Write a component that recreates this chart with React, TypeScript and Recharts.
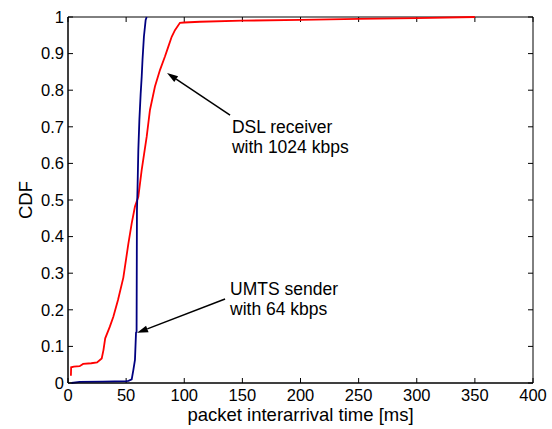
import React from "react";
import {
  LineChart,
  Line,
  XAxis,
  YAxis,
  ReferenceLine,
  ReferenceDot,
} from "recharts";

// UMTS sender, 64 kbps (blue)
const umtsMs = [3, 10, 30, 50, 52, 54.8, 56.2, 57.6, 58.5, 59, 59.3, 59.8, 60.5, 61.4, 62.5, 63.4, 64.1, 65.3, 66.8, 67.7];
const umtsCdf = [0, 0.003, 0.004, 0.005, 0.006, 0.01, 0.035, 0.063, 0.137, 0.14, 0.47, 0.53, 0.637, 0.719, 0.79, 0.837, 0.883, 0.946, 0.992, 1.0];

// DSL receiver, 1024 kbps (red)
const dslMs = [2.5, 2.7, 5, 10, 13, 20, 25, 29, 30.5, 32, 36, 39, 43, 47.6, 51.9, 54.8, 57.6, 60.5, 63.4, 67.7, 70.5, 74.8, 79.1, 83.4, 86.3, 89.2, 92, 96.3, 100, 113.5, 150, 200, 250, 300, 350];
const dslCdf = [0.02, 0.043, 0.045, 0.046, 0.052, 0.054, 0.056, 0.067, 0.09, 0.122, 0.154, 0.181, 0.227, 0.288, 0.38, 0.436, 0.482, 0.509, 0.582, 0.673, 0.746, 0.81, 0.855, 0.892, 0.919, 0.946, 0.964, 0.984, 0.985, 0.987, 0.99, 0.992, 0.995, 0.997, 1.0];

const xTicks = [0, 50, 100, 150, 200, 250, 300, 350, 400];
const yTicks = [0, 0.1, 0.2, 0.3, 0.4, 0.5, 0.6, 0.7, 0.8, 0.9, 1];
const xDomain = [0, 400];
const yDomain = [0, 1];

// annotations: text anchor and arrow (from, to) in data units
const dslText = ["DSL receiver", "with 1024 kbps"];
const dslTextAt = { x: 141, y: 0.683 };
const dslArrow = [{ x: 139.4, y: 0.732 }, { x: 85.2, y: 0.847 }];
const umtsText = ["UMTS sender", "with 64 kbps"];
const umtsTextAt = { x: 139.4, y: 0.24 };
const umtsArrow = [{ x: 135.1, y: 0.2295 }, { x: 59.4, y: 0.137 }];

const umtsData = umtsMs.map((ms, i) => ({ ms, cdf: umtsCdf[i] }));
const dslData = dslMs.map((ms, i) => ({ ms, cdf: dslCdf[i] }));

const FONT = "'Liberation Sans', Arial, sans-serif";
const TICK_LEN = 5;

const Arrow = (props: any) => {
  const { x1, y1, x2, y2 } = props;
  const ang = Math.atan2(y2 - y1, x2 - x1);
  const len = 11;
  const hw = 3.5;
  const bx = x2 - len * Math.cos(ang);
  const by = y2 - len * Math.sin(ang);
  const px = -Math.sin(ang) * hw;
  const py = Math.cos(ang) * hw;
  return (
    <g>
      <line x1={x1} y1={y1} x2={bx} y2={by} stroke="#000" strokeWidth={1.5} />
      <polygon
        points={`${x2},${y2} ${bx + px},${by + py} ${bx - px},${by - py}`}
        fill="#000"
      />
    </g>
  );
};

// box + inward ticks on all four sides; segment runs from (xmin,ymin) to (xmax,ymax)
const Frame = (props: any) => {
  const { x1, y1, x2, y2 } = props;
  const sx = (v: number) => x1 + ((v - xDomain[0]) / (xDomain[1] - xDomain[0])) * (x2 - x1);
  const sy = (v: number) => y1 + ((v - yDomain[0]) / (yDomain[1] - yDomain[0])) * (y2 - y1);
  const d: string[] = [];
  d.push(`M${x1},${y1}H${x2}V${y2}H${x1}Z`);
  xTicks.forEach((t) => {
    const x = sx(t);
    d.push(`M${x},${y1}V${y1 - TICK_LEN}`);
    d.push(`M${x},${y2}V${y2 + TICK_LEN}`);
  });
  yTicks.forEach((t) => {
    const y = sy(t);
    d.push(`M${x1},${y}H${x1 + TICK_LEN}`);
    d.push(`M${x2},${y}H${x2 - TICK_LEN}`);
  });
  return <path d={d.join("")} fill="none" stroke="#000" strokeWidth={1} />;
};

const textShape = (lines: string[]) => (props: any) => (
  <text x={props.cx} y={props.cy} fontSize={17.5} fontFamily={FONT} fill="#000">
    {lines.map((l, i) => (
      <tspan key={i} x={props.cx} dy={i === 0 ? 0 : 19.5}>
        {l}
      </tspan>
    ))}
  </text>
);

const tickStyle = { fontSize: 16.5, fontFamily: FONT, fill: "#000" };

export default function App() {
  return (
    <div style={{ position: "absolute", left: 0, top: 0, width: 552, height: 429, background: "#fff" }}>
      <LineChart
        width={552}
        height={429}
        margin={{ top: 17, right: 19, bottom: 0, left: 0 }}
      >
        <XAxis
          type="number"
          dataKey="ms"
          domain={xDomain}
          ticks={xTicks}
          height={46}
          tickLine={false}
          tickSize={0}
          tickMargin={6}
          tick={tickStyle}
          stroke="#000"
          allowDataOverflow
          label={{
            value: "packet interarrival time [ms]",
            position: "insideBottom",
            offset: 8,
            style: { fontSize: 18.5, fontFamily: FONT, fill: "#000" },
          }}
        />
        <YAxis
          type="number"
          domain={yDomain}
          ticks={yTicks}
          width={68}
          tickLine={false}
          tickSize={0}
          tickMargin={4}
          tick={tickStyle}
          stroke="#000"
          tickFormatter={(v: number) => String(v)}
          label={{
            value: "CDF",
            angle: -90,
            position: "insideLeft",
            offset: 25,
            style: { fontSize: 18.5, fontFamily: FONT, fill: "#000", textAnchor: "middle" },
          }}
        />
        <ReferenceLine
          segment={[{ x: xDomain[0], y: yDomain[0] }, { x: xDomain[1], y: yDomain[1] }]}
          shape={Frame}
          ifOverflow="visible"
        />
        <Line
          data={dslData}
          dataKey="cdf"
          type="linear"
          stroke="#ff0000"
          strokeWidth={1.8}
          dot={false}
          isAnimationActive={false}
        />
        <Line
          data={umtsData}
          dataKey="cdf"
          type="linear"
          stroke="#000080"
          strokeWidth={1.8}
          dot={false}
          isAnimationActive={false}
        />
        <ReferenceLine segment={dslArrow} shape={Arrow} />
        <ReferenceLine segment={umtsArrow} shape={Arrow} />
        <ReferenceDot x={dslTextAt.x} y={dslTextAt.y} r={0} shape={textShape(dslText)} />
        <ReferenceDot x={umtsTextAt.x} y={umtsTextAt.y} r={0} shape={textShape(umtsText)} />
      </LineChart>
    </div>
  );
}
